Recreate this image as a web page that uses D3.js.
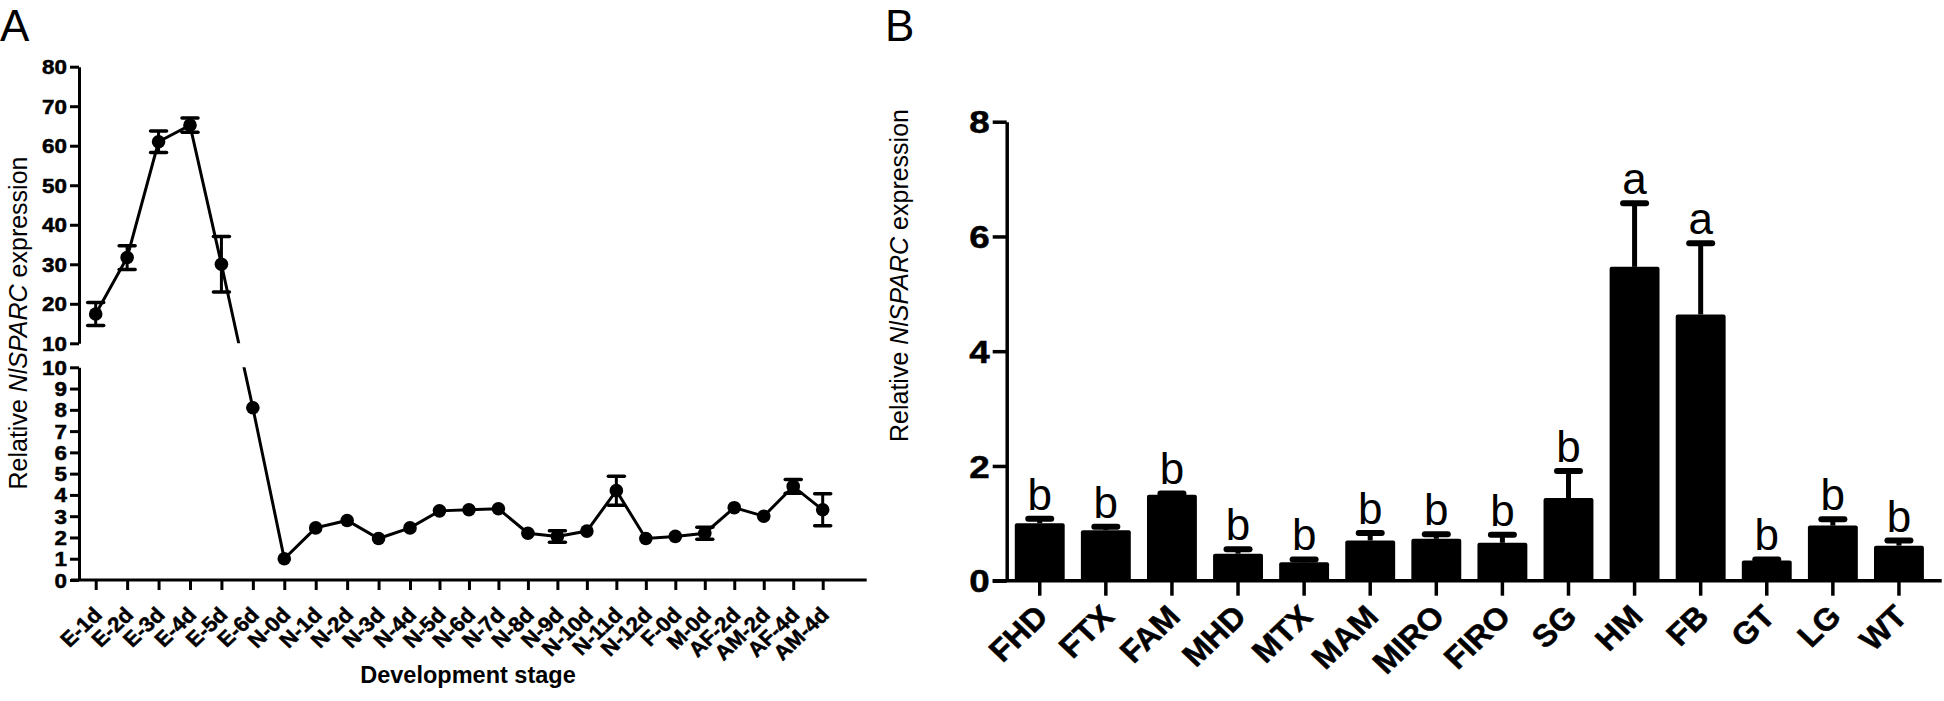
<!DOCTYPE html>
<html><head><meta charset="utf-8">
<script src="https://cdn.jsdelivr.net/npm/d3@7"></script>
<style>
html,body{margin:0;padding:0;background:#fff;}
svg{display:block;font-family:"Liberation Sans",Arial,Helvetica,sans-serif;}
</style>
</head><body>
<svg id="c" width="1944" height="701"></svg>
<script>
// ---------- Panel A data ----------
const stages = ["E-1d","E-2d","E-3d","E-4d","E-5d","E-6d","N-0d","N-1d","N-2d","N-3d","N-4d","N-5d","N-6d","N-7d","N-8d","N-9d","N-10d","N-11d","N-12d","F-0d","M-0d","AF-2d","AM-2d","AF-4d","AM-4d"];
const stageMean = [17.4,31.7,61.0,65.2,30.0,8.1,1.0,2.45,2.8,1.95,2.45,3.25,3.3,3.35,2.2,2.05,2.3,4.2,1.95,2.05,2.2,3.4,3.0,4.4,3.3];
const stageErr  = [2.9,3.0,2.7,1.8,7.0,0,0,0,0,0,0,0,0,0,0,0.27,0,0.68,0,0,0.28,0,0,0.32,0.75];
const yTopTicks = [10,20,30,40,50,60,70,80];
const yBotTicks = [0,1,2,3,4,5,6,7,8,9,10];

// ---------- Panel B data ----------
const tissues = ["FHD","FTX","FAM","MHD","MTX","MAM","MIRO","FIRO","SG","HM","FB","GT","LG","WT"];
const tissueMean = [1.0,0.88,1.50,0.47,0.32,0.70,0.73,0.66,1.44,5.47,4.64,0.35,0.96,0.61];
const tissueErr  = [0.08,0.06,0.02,0.08,0.05,0.13,0.08,0.14,0.47,1.11,1.24,0.02,0.11,0.09];
const tissueLetters = ["b","b","b","b","b","b","b","b","b","a","a","b","b","b"];
const yBTicks = [0,2,4,6,8];

const svg = d3.select("#c");

// ================= Panel A =================
const gA = svg.append("g");
const axAX = 79;
const idx = d3.range(stages.length);
// category positions (index -> x); the original spacing is slightly wider in the first part
const xA = d3.scaleLinear().domain([0,10,24]).range([95.7,410,822.7]);
const yTop = d3.scaleLinear().domain([10,80]).range([343.3,66.7]);
const yBot = d3.scaleLinear().domain([0,10]).range([580,367.3]);
const yA = v => v >= 10 ? yTop(v) : yBot(v);

const defs = svg.append("defs");
const cp = defs.append("clipPath").attr("id","gapclip");
cp.append("rect").attr("x",0).attr("y",0).attr("width",900).attr("height",yTop(10));
cp.append("rect").attr("x",0).attr("y",yBot(10)).attr("width",900).attr("height",701-yBot(10));

function styleAxis(g, sw, fs, tx, ty, anchor, rot, sx){
  g.select(".domain").attr("stroke-width",sw).attr("stroke","#000");
  g.selectAll(".tick line").attr("stroke-width",sw).attr("stroke","#000");
  g.selectAll(".tick text")
    .attr("x",0).attr("y",0).attr("dy","0.35em")
    .attr("fill","#000").attr("stroke","#000").attr("stroke-width",0.5)
    .style("font-size",fs+"px").style("font-weight","bold")
    .style("font-family",'"Liberation Sans",Arial,sans-serif')
    .attr("text-anchor",anchor)
    .attr("transform",`translate(${tx},${ty}) scale(${sx},1)` + (rot ? ` rotate(${rot})` : ""));
}

// y axis (broken)
const gyTop = gA.append("g").attr("transform",`translate(${axAX},0)`)
  .call(d3.axisLeft(yTop).tickValues(yTopTicks).tickSize(9).tickSizeOuter(0));
styleAxis(gyTop, 3, 20, -12, 0, "end", 0, 1.12);
const gyBot = gA.append("g").attr("transform",`translate(${axAX},0)`)
  .call(d3.axisLeft(yBot).tickValues(yBotTicks).tickSize(9).tickSizeOuter(0));
styleAxis(gyBot, 3, 20, -12, 0, "end", 0, 1.12);

// x axis
const gxA = gA.append("g").attr("transform",`translate(0,${yBot(0)})`)
  .call(d3.axisBottom(xA).tickValues(idx).tickFormat(i=>stages[i]).tickSize(10).tickSizeOuter(0));
gxA.select(".domain").remove();
styleAxis(gxA, 3, 21, 1.5, 31, "end", -45, 1.05);
gA.append("line").attr("x1",axAX-8).attr("x2",866.7).attr("y1",yBot(0)).attr("y2",yBot(0))
  .attr("stroke","#000").attr("stroke-width",3);

// data line + markers + error bars
const gData = gA.append("g").attr("clip-path","url(#gapclip)");
gData.append("path").datum(stageMean)
  .attr("d", d3.line().x((d,i)=>xA(i)).y(d=>yA(d)))
  .attr("fill","none").attr("stroke","#000").attr("stroke-width",3);
const withErr = idx.filter(i=>stageErr[i]>0);
const eb = gData.selectAll("g.eb").data(withErr).join("g").attr("class","eb");
eb.append("line")
  .attr("x1",i=>xA(i)).attr("x2",i=>xA(i))
  .attr("y1",i=>yA(stageMean[i]-stageErr[i])).attr("y2",i=>yA(stageMean[i]+stageErr[i]))
  .attr("stroke","#000").attr("stroke-width",3);
[-1,1].forEach(s=>{
  eb.append("line")
    .attr("x1",i=>xA(i)-8).attr("x2",i=>xA(i)+8)
    .attr("y1",i=>yA(stageMean[i]+s*stageErr[i])).attr("y2",i=>yA(stageMean[i]+s*stageErr[i]))
    .attr("stroke","#000").attr("stroke-width",3.5).attr("stroke-linecap","round");
});
gData.selectAll("circle").data(idx).join("circle")
  .attr("cx",i=>xA(i)).attr("cy",i=>yA(stageMean[i])).attr("r",6.8).attr("fill","#000");

// titles A
const tA = gA.append("text").attr("transform","translate(27,323) rotate(-90)")
  .attr("text-anchor","middle").style("font-size","25px");
tA.append("tspan").text("Relative ");
tA.append("tspan").style("font-style","italic").text("NlSPARC");
tA.append("tspan").text(" expression");
gA.append("text").attr("x",468).attr("y",683).attr("text-anchor","middle")
  .style("font-size","23.5px").style("font-weight","bold").text("Development stage");
svg.append("text").attr("x",0).attr("y",41).style("font-size","44px").text("A");

// ================= Panel B =================
const gB = svg.append("g");
const axBX = 1006.7;
const xB = d3.scaleBand().domain(tissues).range([axBX, 1932]).paddingInner(0.245).paddingOuter(0.1225);
const yB = d3.scaleLinear().domain([0,8]).range([580.7,121.7]);

// bars
gB.selectAll("rect.bar").data(tissues).join("rect").attr("class","bar")
  .attr("x",d=>xB(d)).attr("width",xB.bandwidth())
  .attr("y",(d,i)=>yB(tissueMean[i])).attr("height",(d,i)=>yB(0)-yB(tissueMean[i]))
  .attr("rx",2).attr("fill","#000");
// error bars
const ebB = gB.selectAll("g.ebB").data(tissues).join("g").attr("class","ebB");
ebB.append("line")
  .attr("x1",d=>xB(d)+xB.bandwidth()/2).attr("x2",d=>xB(d)+xB.bandwidth()/2)
  .attr("y1",(d,i)=>yB(tissueMean[i])).attr("y2",(d,i)=>yB(tissueMean[i]+tissueErr[i]))
  .attr("stroke","#000").attr("stroke-width",5);
ebB.append("line")
  .attr("x1",d=>xB(d)+xB.bandwidth()/2-11.5).attr("x2",d=>xB(d)+xB.bandwidth()/2+11.5)
  .attr("y1",(d,i)=>yB(tissueMean[i]+tissueErr[i])).attr("y2",(d,i)=>yB(tissueMean[i]+tissueErr[i]))
  .attr("stroke","#000").attr("stroke-width",6).attr("stroke-linecap","round");
// letters
gB.selectAll("text.sig").data(tissues).join("text").attr("class","sig")
  .attr("x",d=>xB(d)+xB.bandwidth()/2)
  .attr("y",(d,i)=>yB(tissueMean[i]+tissueErr[i])-9)
  .attr("text-anchor","middle").style("font-size","44px")
  .text((d,i)=>tissueLetters[i]);

// axes B
const gyB = gB.append("g").attr("transform",`translate(${axBX},0)`)
  .call(d3.axisLeft(yB).tickValues(yBTicks).tickSize(14).tickSizeOuter(0));
styleAxis(gyB, 3.5, 32, -17, 0, "end", 0, 1.15);
const gxB = gB.append("g").attr("transform",`translate(0,${yB(0)})`)
  .call(d3.axisBottom(xB).tickSize(15).tickSizeOuter(0));
gxB.select(".domain").remove();
styleAxis(gxB, 3.5, 31, 2, 30, "end", -45, 1.05);
gB.append("line").attr("x1",axBX-14).attr("x2",1941.7).attr("y1",yB(0)).attr("y2",yB(0))
  .attr("stroke","#000").attr("stroke-width",3.5);

// titles B
const tB = gB.append("text").attr("transform","translate(908,275.5) rotate(-90)")
  .attr("text-anchor","middle").style("font-size","25px");
tB.append("tspan").text("Relative ");
tB.append("tspan").style("font-style","italic").text("NlSPARC");
tB.append("tspan").text(" expression");
svg.append("text").attr("x",885).attr("y",41).style("font-size","44px").text("B");
</script>
</body></html>
